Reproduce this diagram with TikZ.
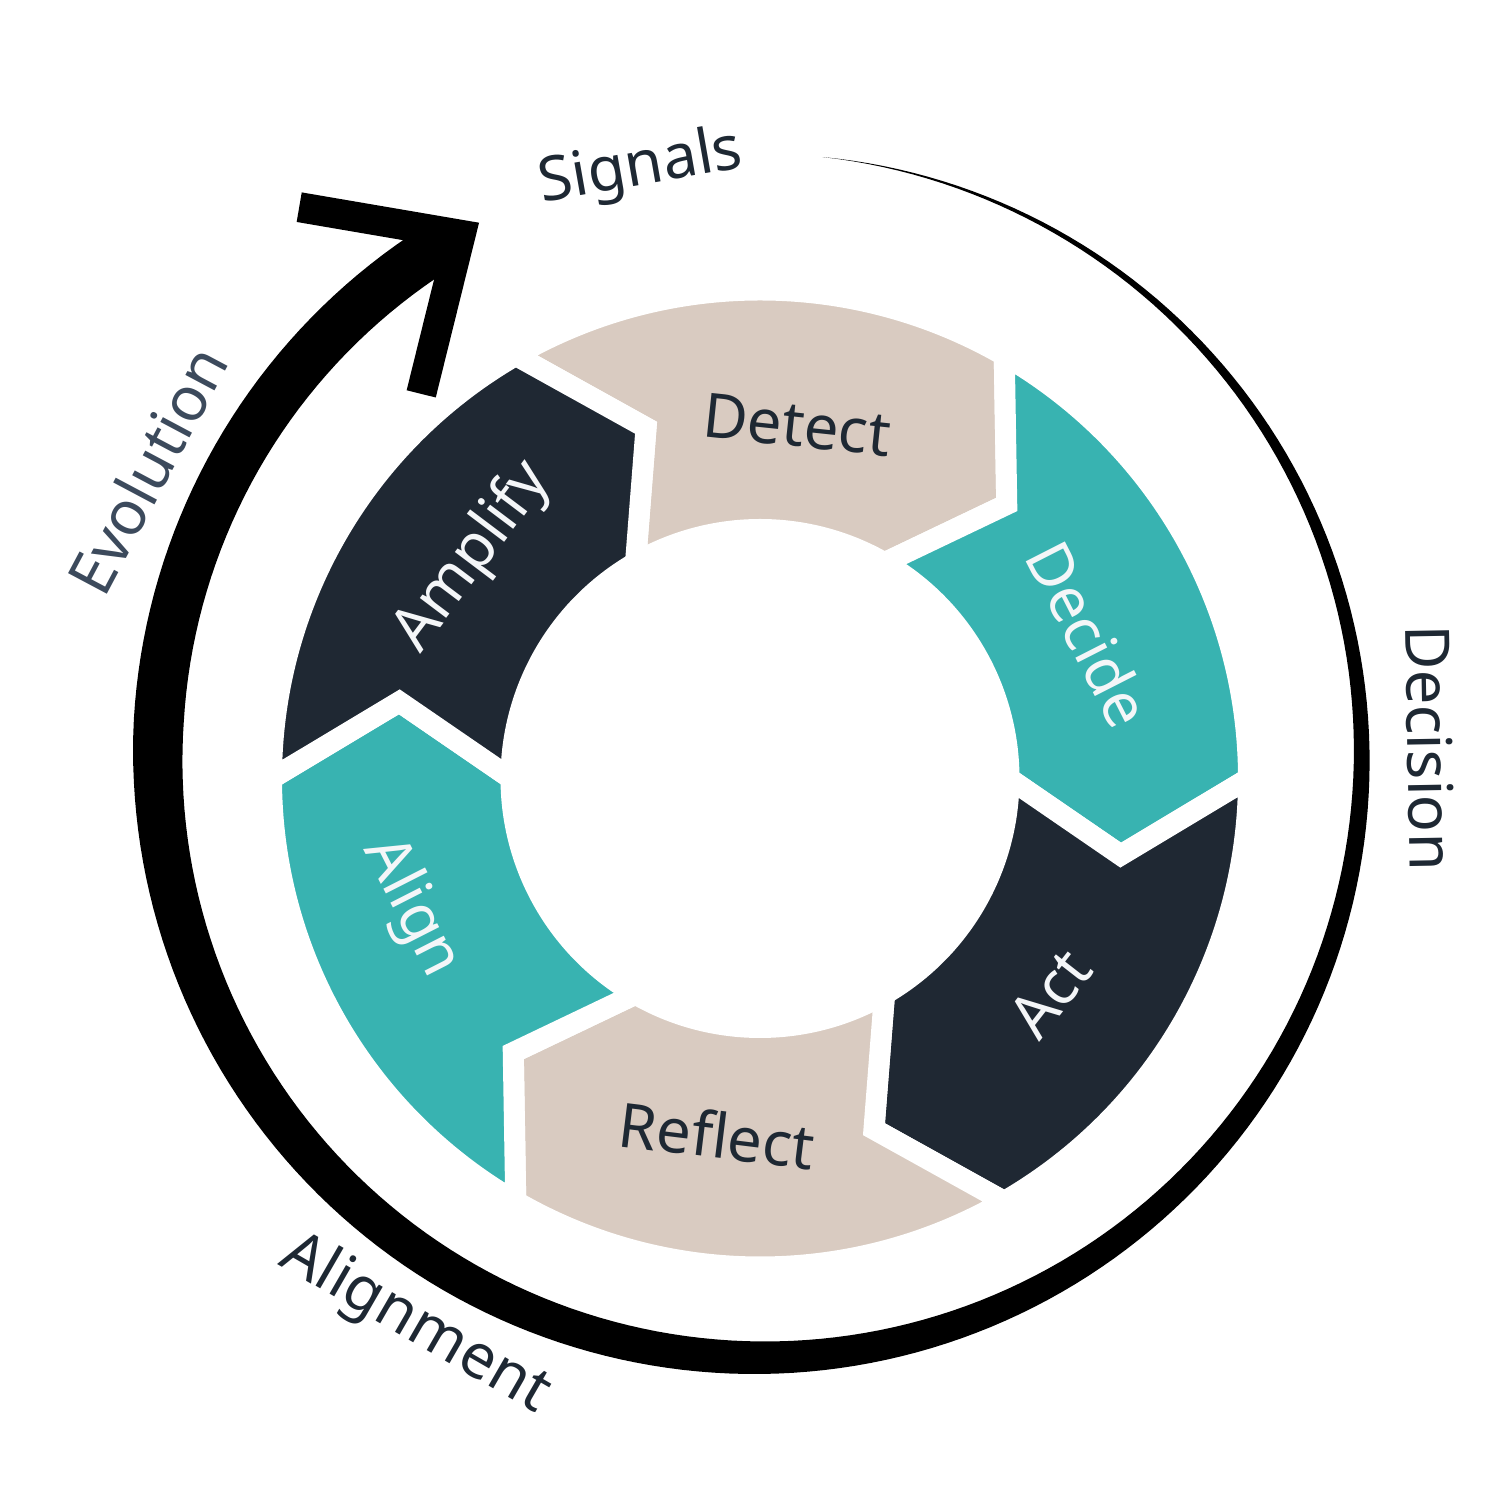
\documentclass[tikz,border=0pt]{standalone}
\usepackage{fontspec}
\setmainfont{Noto Sans}
\definecolor{ringnavy}{HTML}{1F2833}
\definecolor{ringteal}{HTML}{38B3B1}
\definecolor{ringsand}{HTML}{D9CBC1}
\definecolor{inkdark}{HTML}{1E2833}
\definecolor{inkslate}{HTML}{3C4A5C}
\definecolor{inklight}{HTML}{F4F6F8}

\tikzset{
  segment/.style={draw=white, line width=2.1mm, line join=miter},
  seglabel/.style={font=\fontsize{17.5}{21}\selectfont, inner sep=0pt},
  looplabel/.style={font=\fontsize{17.5}{21}\selectfont, inner sep=0pt, text=inkdark},
}

\begin{document}
\begin{tikzpicture}[x=0.1mm, y=0.1mm]
\useasboundingbox (0,0) rectangle (1500,1500);

% Ring of six chevrons
\begin{scope}[shift={(760,721.5)}]
\filldraw[segment, fill=ringsand] (120:488.5) arc[start angle=120, end angle=60, radius=488.5] -- (48:368.75) -- (60:249) arc[start angle=60, end angle=120, radius=249] -- (108:368.75) -- cycle;
\filldraw[segment, fill=ringteal] (60:488.5) arc[start angle=60, end angle=0, radius=488.5] -- (-12:368.75) -- (0:249) arc[start angle=0, end angle=60, radius=249] -- (48:368.75) -- cycle;
\filldraw[segment, fill=ringnavy] (0:488.5) arc[start angle=0, end angle=-60, radius=488.5] -- (-72:368.75) -- (-60:249) arc[start angle=-60, end angle=0, radius=249] -- (-12:368.75) -- cycle;
\filldraw[segment, fill=ringsand] (-60:488.5) arc[start angle=-60, end angle=-120, radius=488.5] -- (-132:368.75) -- (-120:249) arc[start angle=-120, end angle=-60, radius=249] -- (-72:368.75) -- cycle;
\filldraw[segment, fill=ringteal] (-120:488.5) arc[start angle=-120, end angle=-180, radius=488.5] -- (-192:368.75) -- (-180:249) arc[start angle=-180, end angle=-120, radius=249] -- (-132:368.75) -- cycle;
\filldraw[segment, fill=ringnavy] (180:488.5) arc[start angle=180, end angle=120, radius=488.5] -- (108:368.75) -- (120:249) arc[start angle=120, end angle=180, radius=249] -- (168:368.75) -- cycle;
\end{scope}

% Step labels
\node[seglabel, text=inkdark, rotate=-6] (detect) at (797,1075) {Detect};
\node[seglabel, text=inklight, rotate=-63] (decide) at (1089,866) {Decide};
\node[seglabel, text=inklight, rotate=52] (act) at (1050,507) {Act};
\node[seglabel, text=inkdark, rotate=-7] (reflect) at (717,365) {Reflect};
\node[seglabel, text=inklight, rotate=-63] (align) at (411,592) {Align};
\node[seglabel, text=inklight, rotate=53] (amplify) at (473,943) {Amplify};

% Outer loop labels
\node[looplabel, rotate=10] (signals) at (641,1331) {Signals};
\node[looplabel, rotate=-89] (decision) at (1430,752) {Decision};
\node[looplabel, rotate=-30] (alignment) at (415,175) {Alignment};
\node[looplabel, text=inkslate, rotate=62] (evolution) at (147,1030) {Evolution};

% Tapered loop arrow
\coordinate (tip) at (460.6,1265.2);
\coordinate (barend) at (299.2,1292.8);
\coordinate (legend) at (421.2,1106.1);
\begin{scope}[shift={(759.75,744.25)}]
\fill[black] plot[domain=84:-236, samples=220] (\x:{602+0.5*min(0.187*(84-\x),50)})
  -- (tip) -- (-236:577)
  -- plot[domain=-236:84, samples=220] (\x:{602-0.5*min(0.187*(84-\x),50)}) -- cycle;
\end{scope}
\draw[black, line width=3mm, line join=miter] (barend) -- (tip) -- (legend);

\end{tikzpicture}
\end{document}
